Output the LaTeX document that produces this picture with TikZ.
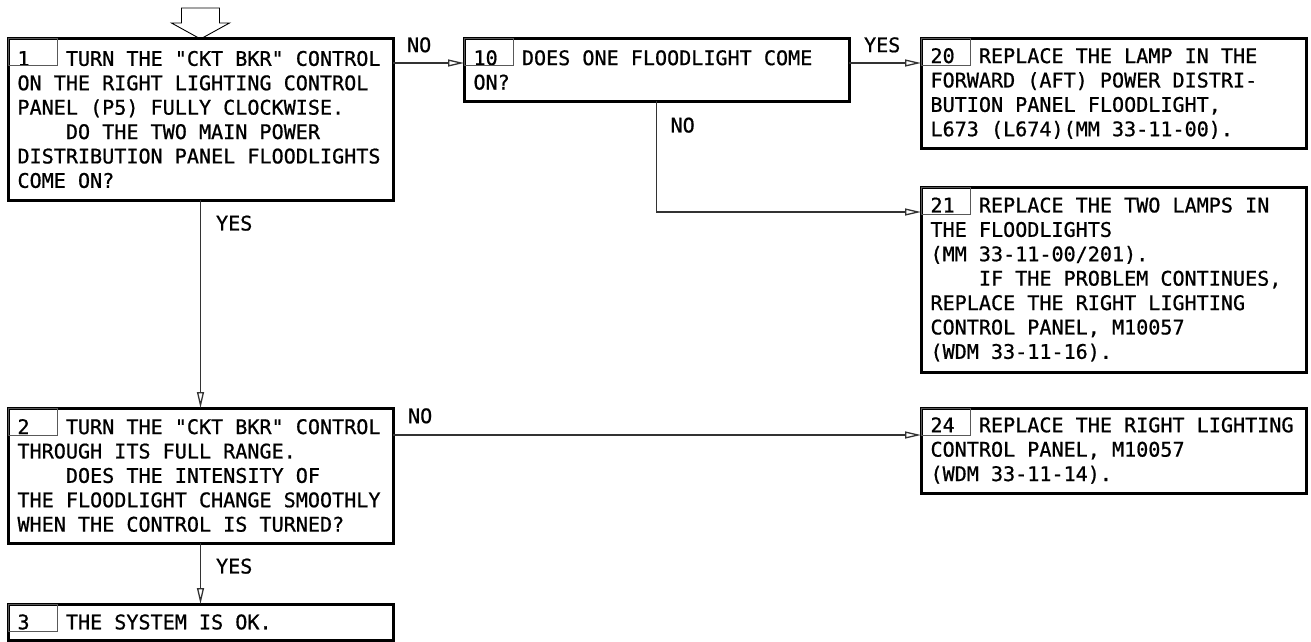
\documentclass[tikz,border=0pt]{standalone}
\usepackage{fontspec}
\usetikzlibrary{arrows.meta}
\newfontfamily\chartfont{DejaVu Sans Mono}[FakeBold=0.8]
\newcommand{\stepfont}{\chartfont\fontsize{20.1pt}{24.4pt}\selectfont}
\newcommand{\fixspaces}{\spaceskip=\fontcharwd\font`0\relax\xspaceskip=\spaceskip}
\newcommand{\stepno}[1]{\rlap{#1}\phantom{0000}}
\newcommand{\stepind}{\phantom{0000}}
\tikzset{
  stepbox/.style={draw, line width=3pt, rectangle, anchor=north west,
    outer sep=0pt, inner xsep=9.5pt, inner ysep=0pt, text width=366pt,
    minimum width=385pt, align=left, font=\stepfont,
    execute at begin node=\fixspaces},
  nobox/.style={draw=black!65, line width=1pt},
  flow/.style={draw=black!80, line width=1.1pt,
    -{Triangle[open,length=16pt,width=7pt,line width=1.3pt]}},
  lbl/.style={font=\stepfont, inner sep=0pt}
}
\begin{document}
\begin{tikzpicture}[x=1pt,y=-1pt]
  \useasboundingbox (0,0) rectangle (1311,642);
  % steps
  \node[stepbox, minimum height=161pt] (s1) at (8,39) {\stepno{1}TURN THE "CKT BKR" CONTROL\\ON THE RIGHT LIGHTING CONTROL\\PANEL (P5) FULLY CLOCKWISE.\\\stepind DO THE TWO MAIN POWER\\DISTRIBUTION PANEL FLOODLIGHTS\\COME ON?};
  \node[stepbox, minimum height=62pt] (s10) at (464,39) {\stepno{10}DOES ONE FLOODLIGHT COME\\ON?};
  \node[stepbox, minimum height=109pt] (s20) at (921,39) {\stepno{20}REPLACE THE LAMP IN THE\\FORWARD (AFT) POWER DISTRI-\\BUTION PANEL FLOODLIGHT,\\L673 (L674)(MM 33-11-00).};
  \node[stepbox, minimum height=185pt] (s21) at (921,187) {\stepno{21}REPLACE THE TWO LAMPS IN\\THE FLOODLIGHTS\\(MM 33-11-00/201).\\\stepind IF THE PROBLEM CONTINUES,\\REPLACE THE RIGHT LIGHTING\\CONTROL PANEL, M10057\\(WDM 33-11-16).};
  \node[stepbox, minimum height=135pt] (s2) at (8,408) {\stepno{2}TURN THE "CKT BKR" CONTROL\\THROUGH ITS FULL RANGE.\\\stepind DOES THE INTENSITY OF\\THE FLOODLIGHT CHANGE SMOOTHLY\\WHEN THE CONTROL IS TURNED?};
  \node[stepbox, minimum height=85pt] (s24) at (921,408) {\stepno{24}REPLACE THE RIGHT LIGHTING\\CONTROL PANEL, M10057\\(WDM 33-11-14).};
  \node[stepbox, minimum height=36pt] (s3) at (8,604) {\stepno{3}THE SYSTEM IS OK.};
  \foreach \s in {s1,s2,s3,s10,s20,s21,s24}
    \draw[nobox] (\s.north west) rectangle ++(49,27);
  % start arrow
  \draw[line width=0.9pt] (s1.north) -- ++(-29,-16) -- ++(10,0) -- ++(0,-15)
    -- ++(38,0) -- ++(0,15) -- ++(10,0) -- cycle;
  % connectors
  \draw[flow] ([yshift=-24pt]s1.north east) -- node[lbl, pos=0, anchor=south west, xshift=13.5pt, yshift=10pt] {NO} ([yshift=-24pt]s10.north west);
  \draw[flow] ([yshift=-24pt]s10.north east) -- node[lbl, pos=0, anchor=south west, xshift=14.5pt, yshift=10pt] {YES} ([yshift=-24pt]s20.north west);
  \draw[flow] (s10.south) |- node[lbl, pos=0, anchor=north west, xshift=13.5pt, yshift=-16pt] {NO} ([yshift=-25pt]s21.north west);
  \draw[flow] (s1.south) -- node[lbl, pos=0, anchor=north west, xshift=15pt, yshift=-15pt] {YES} (s2.north);
  \draw[flow] ([yshift=-27pt]s2.north east) -- node[lbl, pos=0, anchor=south west, xshift=14.5pt, yshift=11pt] {NO} ([yshift=-27pt]s24.north west);
  \draw[flow] (s2.south) -- node[lbl, pos=0, anchor=north west, xshift=15pt, yshift=-15pt] {YES} (s3.north);
\end{tikzpicture}
\end{document}
